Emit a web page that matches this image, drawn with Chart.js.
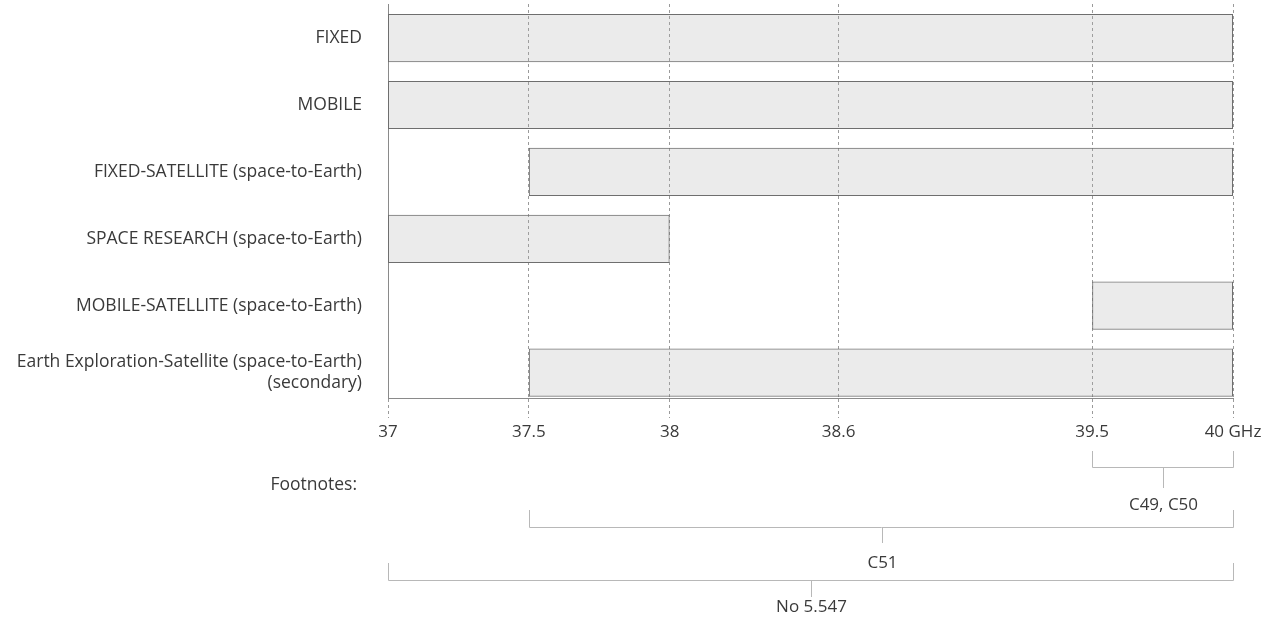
<!DOCTYPE html>
<html>
<head>
<meta charset="utf-8">
<script src="https://cdn.jsdelivr.net/npm/chart.js@4.4.1/dist/chart.umd.min.js"></script>
<style>
  body { margin: 0; background: #fff; }
  #wrap { width: 1272px; height: 618px; position: relative; }
</style>
</head>
<body>
<div id="wrap"><canvas id="bandChart"></canvas></div>
<script>
// services in the 37-40 GHz band
const services = [
    'FIXED',
    'MOBILE',
    'FIXED-SATELLITE (space-to-Earth)',
    'SPACE RESEARCH (space-to-Earth)',
    'MOBILE-SATELLITE (space-to-Earth)',
    ['Earth Exploration-Satellite (space-to-Earth)', '(secondary)'],
];
const bandStart = [37, 37, 37.5, 37, 39.5, 37.5];
const bandEnd = [40, 40, 40, 38, 40, 40];

// frequency ticks (GHz)
const freqTicks = [37, 37.5, 38, 38.6, 39.5, 40];

// footnotes and the range each one covers
const footnoteLabels = ['C49, C50', 'C51', 'No 5.547'];
const footnoteStart = [39.5, 37.5, 37];
const footnoteEnd = [40, 40, 40];

const textColor = '#3a3a3a';
const fontFamily = '"Open Sans", sans-serif';

// brackets under the axis
const footnotePlugin = {
    id: 'footnotes',
    afterDraw(chart) {
        const { ctx } = chart;
        const x = chart.scales.x;
        const rows = [
            { line: 467, top: 451, stem: 488, text: 505 },
            { line: 527, top: 510, stem: 543, text: 563 },
            { line: 580, top: 563, stem: 597, text: 607 },
        ];
        ctx.save();
        ctx.font = '17.5px ' + fontFamily;
        ctx.fillStyle = textColor;
        ctx.textBaseline = 'middle';
        ctx.textAlign = 'right';
        ctx.fillText('Footnotes:', 357, 485);

        ctx.font = '17px ' + fontFamily;
        footnoteLabels.forEach((label, i) => {
            const r = rows[i];
            const x1 = Math.round(x.getPixelForValue(footnoteStart[i])) + 0.5;
            const x2 = Math.round(x.getPixelForValue(footnoteEnd[i])) + 0.5;
            const mid = Math.round((x1 + x2) / 2) + 0.5;
            ctx.strokeStyle = '#b8b8b8';
            ctx.lineWidth = 1;
            ctx.beginPath();
            ctx.moveTo(x1, r.top);
            ctx.lineTo(x1, r.line + 0.5);
            ctx.lineTo(x2, r.line + 0.5);
            ctx.lineTo(x2, r.top);
            ctx.moveTo(mid, r.line + 0.5);
            ctx.lineTo(mid, r.stem);
            ctx.stroke();
            ctx.textAlign = 'center';
            ctx.fillText(label, mid, r.text);
        });
        ctx.restore();
    },
};

const ctx = document.getElementById('bandChart').getContext('2d');
const chart = new Chart(ctx, {
    type: 'bar',
    data: {
        datasets: [
            {
                data: services.map((s, i) => ({ y: i, x: [bandStart[i], bandEnd[i]] })),
                backgroundColor: 'rgba(170, 170, 170, 0.24)',
                borderColor: '#6e6e6e',
                borderWidth: 1,
                borderSkipped: false,
                barPercentage: 0.72,
                categoryPercentage: 1,
            },
        ],
    },
    options: {
        indexAxis: 'y',
        responsive: true,
        maintainAspectRatio: false,
        animation: false,
        layout: { padding: { top: 4, right: 39, bottom: 170, left: 0 } },
        plugins: {
            legend: { display: false },
            tooltip: { enabled: false },
        },
        scales: {
            x: {
                type: 'linear',
                position: 'bottom',
                min: 37,
                max: 40,
                afterBuildTicks: (scale) => {
                    scale.ticks = freqTicks.map((v) => ({ value: v }));
                },
                afterFit: (scale) => {
                    scale.height = 50;
                },
                grid: {
                    color: '#9a9a9a',
                    lineWidth: 1,
                    drawTicks: true,
                    tickLength: 20,
                    tickColor: '#9a9a9a',
                    tickBorderDash: [3, 3],
                },
                border: { display: true, color: '#8a8a8a', width: 1, dash: [3, 3] },
                ticks: {
                    autoSkip: false,
                    maxRotation: 0,
                    padding: 4,
                    color: textColor,
                    font: { family: fontFamily, size: 17 },
                    callback: (v) => (v === 40 ? '40 GHz' : String(v)),
                },
            },
            y: {
                type: 'linear',
                reverse: true,
                offset: false,
                min: -0.51,
                max: 5.38,
                afterBuildTicks: (scale) => {
                    scale.ticks = services.map((s, i) => ({ value: i }));
                },
                afterFit: (scale) => {
                    scale.width = 388;
                    scale.paddingTop = 0;
                    scale.paddingBottom = 0;
                },
                grid: { display: false, drawTicks: false, offset: false },
                border: { display: true, color: '#8a8a8a', width: 1 },
                ticks: {
                    autoSkip: false,
                    padding: 26,
                    color: textColor,
                    font: { family: fontFamily, size: 17.5 },
                    callback: (v) => services[v],
                },
            },
        },
    },
    plugins: [footnotePlugin],
});
</script>
</body>
</html>
